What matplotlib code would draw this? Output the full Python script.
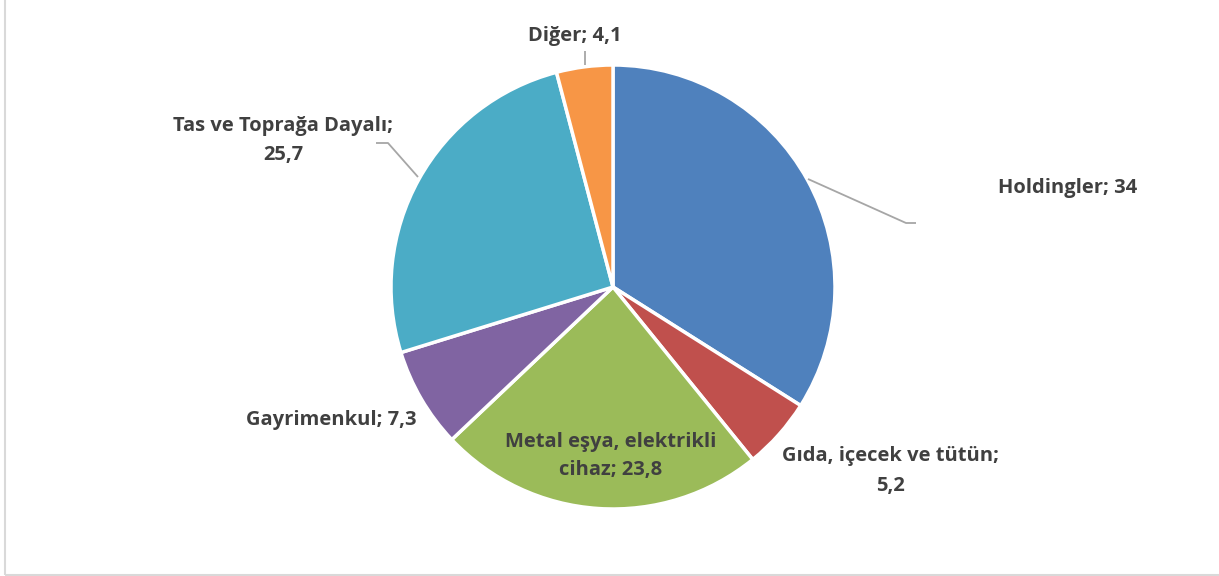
import numpy as np
import matplotlib.pyplot as plt
from matplotlib.patches import Rectangle

labels = ["Holdingler", "Gıda, içecek ve tütün;\n", "Metal eşya, elektrikli\ncihaz", "Gayrimenkul",
          "Tas ve Toprağa Dayalı;\n", "Diğer"]
values = [34, 5.2, 23.8, 7.3, 25.7, 4.1]
value_txt = ["34", "5,2", "23,8", "7,3", "25,7", "4,1"]
colors = ["#4F81BD", "#C0504D", "#9BBB59", "#8064A2", "#4BACC6", "#F79646"]

W, H = 1219, 576
cx, cy, R = 613, 287, 222  # pie centre/radius in pixels

fig = plt.figure(figsize=(W / 100, H / 100), dpi=100)
ax = fig.add_axes([0, 0, 1, 1])

wedges, _ = ax.pie(values, colors=colors, startangle=90, counterclock=False, radius=1,
                   wedgeprops=dict(edgecolor="white", linewidth=2.5))
ax.set_xlim(-cx / R, (W - cx) / R)
ax.set_ylim(-(H - cy) / R, cy / R)
ax.set_aspect("equal")
ax.axis("off")

# outer frame (only left and bottom visible in crop)
fig.patches.append(Rectangle((4.5 / W, 1 - 574.5 / H), 2, 2, transform=fig.transFigure,
                             fill=False, edgecolor="#D9D9D9", linewidth=1.5))


def px(x, y):
    return (x - cx) / R, (cy - y) / R


txt = dict(fontsize=14.5, fontweight="bold", color="#404040", family=["Open Sans", "DejaVu Sans"],
           ha="center", va="center", linespacing=1.6)

# label positions in pixels
pos = [(1068, 188), (890, 471), (611, 456), (331, 420), (283, 140), (575, 36)]
for i, (lab, v) in enumerate(zip(labels, value_txt)):
    sep = "" if lab.endswith("\n") else "; "
    x, y = px(*pos[i])
    ax.text(x, y, lab + sep + v, **txt)

# leader lines
lc = "#A6A6A6"
for pts in [[(808, 179), (906, 223), (916, 223)],
            [(418, 177), (388, 143), (376, 143)],
            [(585, 65), (585, 51)]]:
    xy = np.array([px(*p) for p in pts])
    ax.plot(xy[:, 0], xy[:, 1], color=lc, linewidth=1.3, solid_capstyle="butt")

fig.savefig("out.png", dpi=100)
